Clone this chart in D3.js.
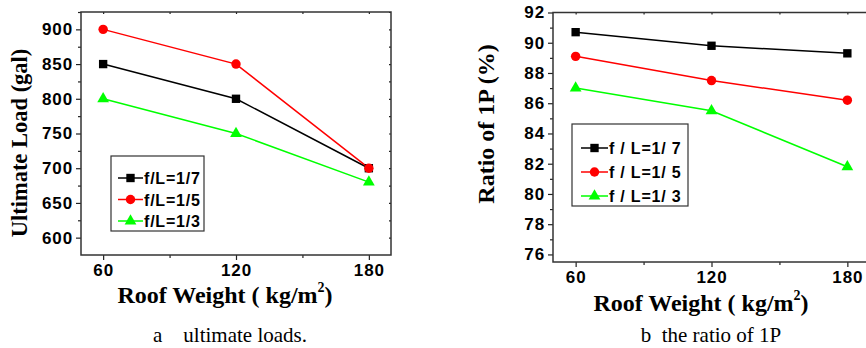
<!DOCTYPE html>
<html>
<head>
<meta charset="utf-8">
<script src="https://cdn.jsdelivr.net/npm/d3@7"></script>
<style>
  body { margin: 0; background: #fff; }
  svg { display: block; }
  .tick text { font-family: "Liberation Sans", Arial, sans-serif; font-weight: bold; font-size: 17px; letter-spacing: 0.9px; fill: #000; }
  .title { font-family: "Liberation Serif", "Times New Roman", serif; font-weight: bold; font-size: 24px; }
  .caption { font-family: "Liberation Serif", "Times New Roman", serif; font-size: 21px; white-space: pre; }
  .legend text { font-family: "Liberation Sans", Arial, sans-serif; font-weight: bold; font-size: 16px; letter-spacing: 0.8px; }
</style>
</head>
<body>
<svg width="866" height="348"></svg>
<script>
// roof weight (kg/m2) on x, two panels

var roofWeights = [60, 120, 180];
var weightTicks = [60, 120, 180];
var weightMinor = [90, 150];

var colors = ["#000000", "#ff0000", "#00ff00"];
var symbols = [d3.symbolSquare, d3.symbolCircle, d3.symbolTriangle];

// panel a
var loadLabels = ["f/L=1/7", "f/L=1/5", "f/L=1/3"];
var load17 = [850, 800, 700];
var load15 = [900, 850, 700];
var load13 = [800, 750, 680];
var loadTicks = [600, 650, 700, 750, 800, 850, 900];
var loadMinor = [625, 675, 725, 775, 825, 875, 925];

// panel b
var ratioLabels = ["f / L=1/ 7", "f / L=1/ 5", "f / L=1/ 3"];
var ratio17 = [90.7, 89.8, 89.3];
var ratio15 = [89.1, 87.5, 86.2];
var ratio13 = [87.0, 85.5, 81.8];
var ratioTicks = [76, 78, 80, 82, 84, 86, 88, 90, 92];
var ratioMinor = [77, 79, 81, 83, 85, 87, 89, 91];

var svg = d3.select("svg");

function drawPanel(p) {
  var x = d3.scaleLinear().domain([50, 190]).range([p.left, p.right]);
  var y = d3.scaleLinear().domain(p.yDomain).range([p.bottom, p.top]);
  var g = svg.append("g");

  // minor ticks
  g.append("g")
    .attr("transform", "translate(" + p.left + ",0)")
    .call(d3.axisLeft(y).tickValues(p.yMinor).tickSize(3).tickSizeOuter(0).tickFormat(""));
  g.append("g")
    .attr("transform", "translate(0," + p.bottom + ")")
    .call(d3.axisBottom(x).tickValues(weightMinor).tickSize(3).tickSizeOuter(0).tickFormat(""));

  // major ticks + labels
  g.append("g")
    .attr("transform", "translate(" + p.left + ",0)")
    .call(d3.axisLeft(y).tickValues(p.yTicks).tickSize(5).tickPadding(3).tickSizeOuter(0));
  g.append("g")
    .attr("transform", "translate(0," + p.bottom + ")")
    .call(d3.axisBottom(x).tickValues(weightTicks).tickSize(5).tickPadding(4).tickSizeOuter(0));

  // small inward ticks on top & right
  g.append("g")
    .attr("transform", "translate(0," + p.top + ")")
    .call(d3.axisTop(x).tickValues(weightTicks.concat(weightMinor)).tickSize(-2).tickSizeOuter(0).tickFormat(""));
  g.append("g")
    .attr("transform", "translate(" + p.right + ",0)")
    .call(d3.axisRight(y).tickValues(p.yTicks.concat(p.yMinor)).tickSize(-2).tickSizeOuter(0).tickFormat(""));

  g.selectAll(".domain").remove();
  g.selectAll(".tick line").attr("stroke", "#222").attr("stroke-width", 1.2);

  g.append("rect")
    .attr("x", p.left).attr("y", p.top)
    .attr("width", p.right - p.left).attr("height", p.bottom - p.top)
    .attr("fill", "none").attr("stroke", "#333").attr("stroke-width", 1.5);

  var line = d3.line().x((d, i) => x(roofWeights[i])).y(d => y(d));

  p.series.forEach((s, k) => {
    g.append("path")
      .attr("d", line(s))
      .attr("fill", "none")
      .attr("stroke", colors[k])
      .attr("stroke-width", 1.5);
  });
  p.series.forEach((s, k) => {
    g.selectAll(null)
      .data(s)
      .enter()
      .append("path")
        .attr("transform", (d, i) => "translate(" + x(roofWeights[i]) + "," + y(d) + ")")
        .attr("d", d3.symbol().type(symbols[k]).size(k == 2 ? 60 : 70))
        .attr("fill", colors[k]);
  });

  // legend
  var lg = g.append("g").classed("legend", true);
  lg.append("rect")
    .attr("x", p.legend.x).attr("y", p.legend.y)
    .attr("width", p.legend.w).attr("height", p.legend.h)
    .attr("fill", "#fff").attr("stroke", "#333").attr("stroke-width", 1.2);
  p.labels.forEach((lab, k) => {
    var ly = p.legend.y0 + k * p.legend.dy;
    lg.append("line")
      .attr("x1", p.legend.lx1).attr("x2", p.legend.lx2)
      .attr("y1", ly).attr("y2", ly)
      .attr("stroke", colors[k]).attr("stroke-width", 1.5);
    lg.append("path")
      .attr("transform", "translate(" + (p.legend.lx1 + p.legend.lx2) / 2 + "," + ly + ")")
      .attr("d", d3.symbol().type(symbols[k]).size(k == 2 ? 60 : 70))
      .attr("fill", colors[k]);
    lg.append("text")
      .attr("x", p.legend.lx2 + 1)
      .attr("y", ly + 6)
      .text(lab);
  });

  // axis titles
  var xt = svg.append("text")
    .classed("title", true)
    .attr("x", p.xTitle[0]).attr("y", p.xTitle[1])
    .style("text-anchor", "middle");
  xt.append("tspan").text("Roof Weight ( kg/m");
  xt.append("tspan").attr("font-size", "14px").attr("dy", -11).text("2");
  xt.append("tspan").attr("dy", 11).text(")");

  svg.append("text")
    .classed("title", true)
    .attr("transform", "rotate(-90)")
    .attr("x", -p.yTitle[1])
    .attr("y", p.yTitle[0])
    .style("text-anchor", "middle")
    .style("font-size", p.yTitle[2] + "px")
    .text(p.yLabel);

  svg.append("text")
    .classed("caption", true)
    .attr("x", p.caption[0]).attr("y", 342)
    .style("text-anchor", "middle")
    .text(p.captionText);
}

drawPanel({
  left: 81, right: 391, top: 12, bottom: 255,
  yDomain: [575, 925], yTicks: loadTicks, yMinor: loadMinor,
  series: [load17, load15, load13], labels: loadLabels,
  legend: { x: 111, y: 156, w: 93, h: 75, y0: 178, dy: 21.5, lx1: 118, lx2: 143 },
  xTitle: [225, 303], yTitle: [27, 143, 22.5], yLabel: "Ultimate Load (gal)",
  caption: [230, 0], captionText: "a    ultimate loads."
});

drawPanel({
  left: 553, right: 870, top: 12.5, bottom: 262,
  yDomain: [75.5, 92], yTicks: ratioTicks, yMinor: ratioMinor,
  series: [ratio17, ratio15, ratio13], labels: ratioLabels,
  legend: { x: 572, y: 124, w: 116, h: 82, y0: 148, dy: 24, lx1: 581, lx2: 608 },
  xTitle: [701, 311], yTitle: [494, 124, 24], yLabel: "Ratio of 1P (%)",
  caption: [711, 0], captionText: "b  the ratio of 1P"
});
</script>
</body>
</html>
